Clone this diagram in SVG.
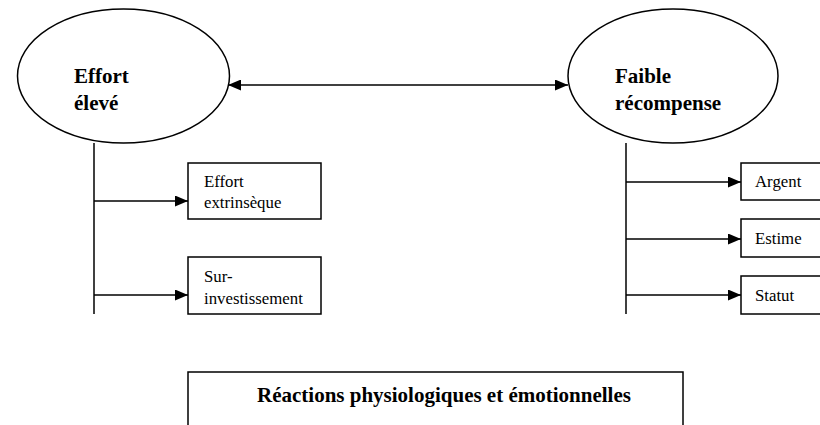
<svg xmlns="http://www.w3.org/2000/svg" width="820" height="425" viewBox="0 0 820 425">
<style>
.shape{fill:#fff;stroke:#000;stroke-width:1.5}
.line{stroke:#000;stroke-width:1.5;fill:none}
.big{font-weight:bold;font-size:21px;fill:#000}
.small{font-size:16.8px;fill:#000}
</style>
<defs>
<marker id="ah" markerWidth="13" markerHeight="11" refX="13" refY="5.5" orient="auto-start-reverse" markerUnits="userSpaceOnUse">
<path d="M0,0 L13,5.5 L0,11 Z" fill="#000"/>
</marker>
</defs>
<rect width="820" height="425" fill="#fff"/>
<g font-family="'Liberation Serif', 'Times New Roman', 'DejaVu Serif', serif">
<g id="effort-eleve">
<ellipse class="shape" cx="123.5" cy="76" rx="106" ry="67"/>
<text class="big" x="74" y="83">Effort</text>
<text class="big" x="74" y="110">élevé</text>
</g>
<g id="faible-recompense">
<ellipse class="shape" cx="673" cy="76" rx="105" ry="67"/>
<text class="big" x="615" y="83">Faible</text>
<text class="big" x="615" y="110">récompense</text>
</g>
<g id="effort-extrinseque">
<rect class="shape" x="188" y="163" width="133" height="56"/>
<text class="small" x="204" y="187">Effort</text>
<text class="small" x="204" y="208">extrinsèque</text>
</g>
<g id="sur-investissement">
<rect class="shape" x="188" y="257" width="133" height="57"/>
<text class="small" x="204" y="282">Sur-</text>
<text class="small" x="204" y="304">investissement</text>
</g>
<g id="argent">
<rect class="shape" x="741" y="163" width="90" height="37"/>
<text class="small" x="755" y="187">Argent</text>
</g>
<g id="estime">
<rect class="shape" x="741" y="219" width="90" height="38"/>
<text class="small" x="755" y="244">Estime</text>
</g>
<g id="statut">
<rect class="shape" x="741" y="276" width="90" height="38"/>
<text class="small" x="755" y="301">Statut</text>
</g>
<g id="reactions">
<rect class="shape" x="188" y="372" width="495" height="70"/>
<text class="big" x="257" y="402">Réactions physiologiques et émotionnelles</text>
</g>
</g>
<g id="connectors">
<line class="line" x1="228" y1="85" x2="568" y2="85" marker-start="url(#ah)" marker-end="url(#ah)"/>
<line class="line" x1="94" y1="143" x2="94" y2="314"/>
<line class="line" x1="94" y1="201" x2="188" y2="201" marker-end="url(#ah)"/>
<line class="line" x1="94" y1="295" x2="188" y2="295" marker-end="url(#ah)"/>
<line class="line" x1="626" y1="143" x2="626" y2="314"/>
<line class="line" x1="626" y1="182" x2="741" y2="182" marker-end="url(#ah)"/>
<line class="line" x1="626" y1="239" x2="741" y2="239" marker-end="url(#ah)"/>
<line class="line" x1="626" y1="295" x2="741" y2="295" marker-end="url(#ah)"/>
</g>
</svg>
